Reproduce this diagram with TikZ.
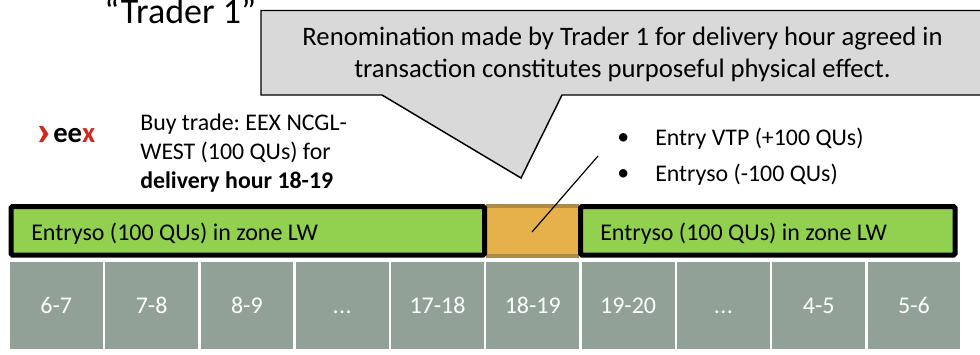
\documentclass[tikz,border=0pt]{standalone}
\usepackage{fontspec}
\setmainfont{Carlito}
\usepackage{tikz}
\definecolor{calloutgray}{HTML}{D9D9D9}
\definecolor{barlime}{HTML}{92D050}
\definecolor{baramber}{HTML}{E6B04A}
\definecolor{amberedge}{HTML}{AD8A45}
\definecolor{hourgray}{HTML}{92A197}
\definecolor{eexred}{HTML}{D3281C}
\tikzset{
	hourcell/.style={fill=hourgray, text=white, inner sep=0pt, minimum width=69.6pt, minimum height=65.2pt, font=\fontsize{18}{20}\selectfont},
	zonelabel/.style={anchor=west, inner sep=0pt, font=\fontsize{18}{20}\selectfont},
	plaintext/.style={anchor=west, inner sep=0pt, align=left, font=\fontsize{17.9}{21.75}\selectfont},
}
\frenchspacing

\begin{document}
\begin{tikzpicture}[x=0.75pt, y=-0.75pt]
				\useasboundingbox (0,0) rectangle (980,354);
				\clip (0,0) rectangle (980,354);
				\node[anchor=base west, inner sep=0pt, font=\fontsize{27}{32}\selectfont] (title) at (104,23) {“Trader 1”};
				% callout
				\fill[calloutgray] (261,10.5) -- (990,10.5) -- (990,95) -- (562,95) -- (521,178) -- (382,95) -- (261,95) -- cycle;
				\draw[line width=1.1pt, black] (990,10.5) -- (261,10.5) -- (261,95) -- (382,95) -- (521,178) -- (562,95) -- (990,95);
				\node[align=center, inner sep=0pt, font=\fontsize{20}{24}\selectfont] (remark) at (622.5,54.5) {Renomination made by Trader 1 for delivery hour agreed in\\transaction constitutes purposeful physical effect.};
				% logo
				\fill[eexred] (39,126) -- (43,126) -- (48.5,134) -- (43,142) -- (39,142) -- (43.5,134) -- cycle;
				\node[anchor=base west, inner sep=0pt, font=\fontsize{21.5}{24}\selectfont\bfseries] (logo) at (53,142) {ee\textcolor{eexred}{x}};
				\node[plaintext] (trade) at (140,153) {Buy trade: EEX NCGL-\\WEST (100 QUs) for\\\textbf{delivery hour 18-19}};
				% bullets
				\node[plaintext] (dotvtp) at (617,139) {•};
				\node[plaintext] (dotso) at (617,175) {•};
				\node[plaintext] (entryvtp) at (655,139) {Entry VTP (+100 QUs)};
				\node[plaintext] (entryso) at (655,175) {Entryso (-100 QUs)};
				% bars
				\fill[baramber] (486,206) rectangle (579,256);
				\draw[line width=3pt, amberedge] (486,206) -- (579,206);
				\draw[line width=3pt, amberedge] (486,256) -- (579,256);
				\draw[line width=3.75pt, rounded corners=1pt, black, fill=barlime] (11,206.5) rectangle (484.5,255);
				\draw[line width=3.75pt, rounded corners=1pt, black, fill=barlime] (580.5,206.5) rectangle (955,255);
				\node[zonelabel] (zoneleft) at (31,233.5) {Entryso (100 QUs) in zone LW};
				\node[zonelabel] (zoneright) at (600,233.5) {Entryso (100 QUs) in zone LW};
				% link
				\coordinate (linktop) at (598,156);
				\coordinate (linkend) at (532,232);
				\draw[line width=0.9pt, black] (linktop) -- (linkend);
				% hours
				\node[hourcell] (h6) at (56.3,305.5) {6-7};
				\node[hourcell] (h7) at (151.6,305.5) {7-8};
				\node[hourcell] (h8) at (246.9,305.5) {8-9};
				\node[hourcell, text height=12pt, text depth=0pt] (hdotsa) at (342.2,305.5) {.\kern0.4pt.\kern0.4pt.};
				\node[hourcell] (h17) at (437.5,305.5) {17-18};
				\node[hourcell] (h18) at (532.8,305.5) {18-19};
				\node[hourcell] (h19) at (628.1,305.5) {19-20};
				\node[hourcell, text height=12pt, text depth=0pt] (hdotsb) at (723.4,305.5) {.\kern0.4pt.\kern0.4pt.};
				\node[hourcell] (h4) at (818.7,305.5) {4-5};
				\node[hourcell] (h5) at (914,305.5) {5-6};
				\end{tikzpicture}
\end{document}
